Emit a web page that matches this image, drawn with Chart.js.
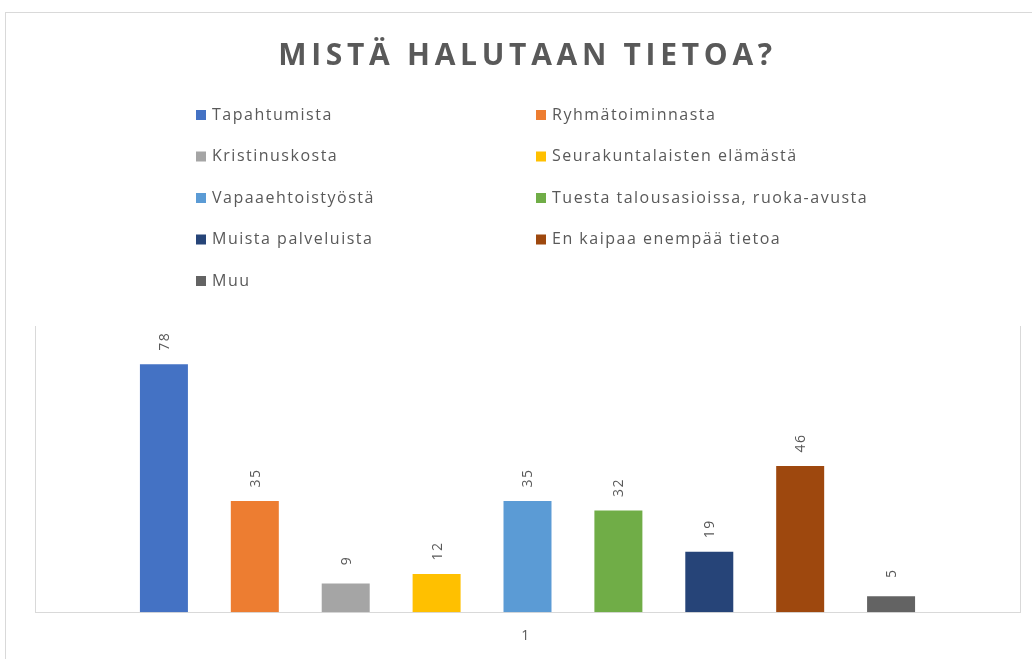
<!DOCTYPE html>
<html>
<head>
<meta charset="utf-8">
<script src="https://cdn.jsdelivr.net/npm/chart.js@4.4.1/dist/chart.umd.min.js"></script>
<style>
  html, body { margin: 0; padding: 0; background: #ffffff; }
  #wrap { position: relative; width: 1032px; height: 659px; overflow: hidden; }
  #frame { position: absolute; left: 5px; top: 12px; width: 1100px; height: 700px;
           border-left: 1px solid #D9D9D9; border-top: 1px solid #D9D9D9; box-sizing: border-box; }
  #c { position: absolute; left: 0; top: 0; }
</style>
</head>
<body>
<div id="wrap">
  <div id="frame"></div>
  <canvas id="c" width="1032" height="659"></canvas>
</div>
<script>
// ---- data ----
const categories = ["1"];
const seriesNames = [
  "Tapahtumista",
  "Ryhmätoiminnasta",
  "Kristinuskosta",
  "Seurakuntalaisten elämästä",
  "Vapaaehtoistyöstä",
  "Tuesta talousasioissa, ruoka-avusta",
  "Muista palveluista",
  "En kaipaa enempää tietoa",
  "Muu"
];
const seriesValues = [78, 35, 9, 12, 35, 32, 19, 46, 5];
const seriesColors = ["#4472C4", "#ED7D31", "#A5A5A5", "#FFC000", "#5B9BD5", "#70AD47", "#264478", "#9E480E", "#636363"];
const titleText = "MISTÄ HALUTAAN TIETOA?";

const TEXT = "#595959";

const datasets = seriesNames.map((name, i) => ({
  label: name,
  data: [seriesValues[i]],
  backgroundColor: seriesColors[i],
  borderWidth: 0,
  categoryPercentage: 0.8305,
  barPercentage: 0.528
}));

const spacingPlugin = {
  id: 'spacing',
  beforeDraw(chart) { chart.ctx.letterSpacing = '4.7px'; },
  beforeDatasetsDraw(chart) { chart.ctx.letterSpacing = '0px'; }
};

const valueLabels = {
  id: 'valueLabels',
  afterDatasetsDraw(chart) {
    const ctx = chart.ctx;
    ctx.save();
    ctx.letterSpacing = '1.5px';
    ctx.font = '14px "Open Sans", sans-serif';
    ctx.fillStyle = TEXT;
    ctx.textAlign = 'center';
    ctx.textBaseline = 'middle';
    chart.data.datasets.forEach((ds, i) => {
      const meta = chart.getDatasetMeta(i);
      meta.data.forEach((bar, j) => {
        const v = ds.data[j];
        ctx.save();
        ctx.translate(bar.x + 1, bar.y - 23);
        ctx.rotate(-Math.PI / 2);
        ctx.fillText(String(v), 0, 0);
        ctx.restore();
      });
    });
    ctx.restore();
  }
};

const gridLegend = {
  id: 'gridLegend',
  afterDraw(chart) {
    const ctx = chart.ctx;
    ctx.save();
    ctx.letterSpacing = '1.5px';
    ctx.font = '16px "Open Sans", sans-serif';
    ctx.textBaseline = 'middle';
    ctx.textAlign = 'left';
    chart.data.datasets.forEach((ds, i) => {
      const col = i % 2, row = Math.floor(i / 2);
      const bx = 196 + col * 340;
      const cy = 115 + row * 41.5;
      ctx.fillStyle = ds.backgroundColor;
      ctx.fillRect(bx, cy - 5, 10, 10);
      ctx.fillStyle = TEXT;
      ctx.fillText(ds.label, bx + 16, cy);
    });
    ctx.restore();
  }
};

new Chart(document.getElementById('c'), {
  type: 'bar',
  data: { labels: categories, datasets },
  options: {
    responsive: false,
    animation: false,
    layout: { padding: { left: 35, right: 12, top: 0, bottom: 0 } },
    plugins: {
      legend: { display: false },
      tooltip: { enabled: false },
      title: {
        display: true,
        text: titleText,
        color: TEXT,
        font: { family: '"Open Sans", sans-serif', size: 30, weight: 'bold' },
        padding: { top: 38, bottom: 252 }
      }
    },
    scales: {
      x: {
        grid: { display: true, color: '#D9D9D9', drawTicks: false, offset: true },
        border: { display: true, color: '#D9D9D9' },
        ticks: { color: TEXT, font: { family: '"Open Sans", sans-serif', size: 14 }, padding: 15 }
      },
      y: {
        display: false,
        min: 0,
        max: 90,
        grid: { display: false }
      }
    }
  },
  plugins: [spacingPlugin, valueLabels, gridLegend]
});
</script>
</body>
</html>
